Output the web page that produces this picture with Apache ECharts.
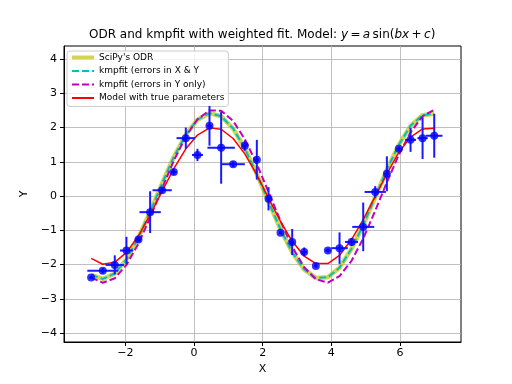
<!DOCTYPE html>
<html><head><meta charset="utf-8">
<script src="https://cdn.jsdelivr.net/npm/echarts@6/dist/echarts.min.js"></script>
<style>html,body{margin:0;padding:0;background:#fff}#c{width:512px;height:384px}</style>
</head><body><div id="c"></div>
<script>
// Data
const xData = [-3.00,-2.66,-2.31,-1.97,-1.62,-1.28,-0.93,-0.59,-0.24,0.10,0.45,0.79,1.14,1.48,1.83,2.17,2.52,2.86,3.21,3.55,3.90,4.24,4.59,4.93,5.28,5.62,5.97,6.31,6.66,7.00];
const yData = [-2.38,-2.18,-2.01,-1.59,-1.27,-0.47,0.17,0.70,1.69,1.20,2.05,1.41,0.93,1.47,1.06,-0.08,-1.07,-1.34,-1.63,-2.04,-1.59,-1.52,-1.34,-0.90,0.12,0.65,1.38,1.64,1.69,1.76];
const xErr = [0.05,0.45,0.27,0.19,0.06,0.31,0.28,0.08,0.27,0.16,0.08,0.40,0.34,0.08,0.06,0.06,0.05,0.06,0.08,0.05,0.08,0.24,0.19,0.32,0.31,0.08,0.06,0.16,0.15,0.24];
const yErr = [0.05,0.08,0.28,0.40,0.08,0.61,0.08,0.08,0.31,0.18,0.58,1.05,0.08,0.15,0.58,0.34,0.05,0.38,0.13,0.05,0.06,0.46,0.12,0.71,0.17,0.51,0.06,0.35,0.61,0.64];
const odrFit = [-2.30,-2.42,-2.26,-1.85,-1.21,-0.46,0.37,1.14,1.79,2.23,2.42,2.33,1.97,1.39,0.64,-0.16,-0.97,-1.64,-2.14,-2.39,-2.37,-2.09,-1.54,-0.85,-0.03,0.77,1.50,2.05,2.36,2.40];
const kmpfitXY = [-2.30,-2.42,-2.26,-1.85,-1.21,-0.46,0.37,1.14,1.79,2.23,2.42,2.33,1.97,1.39,0.64,-0.16,-0.97,-1.64,-2.14,-2.39,-2.37,-2.09,-1.54,-0.85,-0.03,0.77,1.50,2.05,2.36,2.40];
const kmpfitY = [-2.38,-2.53,-2.40,-2.01,-1.39,-0.63,0.22,1.03,1.74,2.24,2.50,2.49,2.19,1.66,0.93,0.12,-0.73,-1.48,-2.08,-2.43,-2.53,-2.34,-1.89,-1.24,-0.43,0.40,1.21,1.86,2.33,2.52];
const trueModel = [-1.82,-1.99,-1.93,-1.65,-1.16,-0.55,0.14,0.80,1.38,1.78,1.99,1.95,1.68,1.23,0.62,-0.06,-0.74,-1.32,-1.75,-1.97,-1.97,-1.73,-1.27,-0.69,-0.01,0.65,1.28,1.72,1.96,1.98];
const xTicks = [-2,0,2,4,6];
const yTicks = [-4,-3,-2,-1,0,1,2,3,4];
const seriesNames = ["SciPy's ODR","kmpfit (errors in X & Y","kmpfit (errors in Y only)","Model with true parameters"];

const F = 'DejaVu Sans';
const pair = arr => xData.map((x,i)=>[x,arr[i]]);
const minus = v => String(v).replace('-', '\u2212');
const ODR_COLOR = 'rgba(191,191,0,0.68)';

const chart = echarts.init(document.getElementById('c'), null, {renderer:'canvas'});
chart.setOption({
  animation:false,
  backgroundColor:'#fff',
  title:{
    text:'ODR and kmpfit with weighted fit. Model: {i|y}\u2009=\u2009{i|a}\u2009sin({i|bx}\u2009+\u2009{i|c})',
    left:89, top:28.5, padding:0,
    textStyle:{fontFamily:F,fontSize:12,fontWeight:'normal',color:'#000',
      rich:{i:{fontFamily:F,fontSize:12,fontStyle:'italic',color:'#000'}}}
  },
  grid:{left:64,right:51,top:46,bottom:42,show:true,borderColor:'#000',borderWidth:1,backgroundColor:'transparent'},
  legend:{
    orient:'vertical', left:67, top:51,
    data:[
      {name:seriesNames[0],lineStyle:{width:4}},
      {name:seriesNames[1]},
      {name:seriesNames[2]},
      {name:seriesNames[3]}
    ],
    backgroundColor:'rgba(255,255,255,0.8)', borderColor:'#cccccc', borderWidth:1, borderRadius:3,
    padding:[1,4,3,3], itemWidth:22, itemHeight:11, itemGap:2.5,
    itemStyle:{opacity:0},
    textStyle:{fontFamily:F,fontSize:9,color:'#000',lineHeight:11}
  },
  xAxis:{
    type:'value', min:-3.79, max:7.78,
    name:'X', nameLocation:'middle', nameGap:20,
    nameTextStyle:{fontFamily:F,fontSize:11,color:'#000'},
    axisLine:{show:true,onZero:false,lineStyle:{color:'#000',width:1}},
    axisTick:{show:true,inside:false,length:4,customValues:xTicks,lineStyle:{color:'#000'}},
    axisLabel:{customValues:xTicks,margin:6,fontFamily:F,fontSize:11,color:'#000',formatter:minus},
    splitLine:{show:true,lineStyle:{color:'#b0b0b0',width:0.8}}
  },
  yAxis:{
    type:'value', min:-4.26, max:4.38,
    name:'Y', nameLocation:'middle', nameGap:31, nameRotate:90,
    nameTextStyle:{fontFamily:F,fontSize:11,color:'#000'},
    axisLine:{show:true,onZero:false,lineStyle:{color:'#000',width:1}},
    axisTick:{show:true,inside:false,length:4,customValues:yTicks,lineStyle:{color:'#000'}},
    axisLabel:{customValues:yTicks,margin:7,fontFamily:F,fontSize:11,color:'#000',formatter:minus},
    splitLine:{show:true,lineStyle:{color:'#b0b0b0',width:0.8}}
  },
  series:[
    {name:seriesNames[0],type:'line',data:pair(odrFit),symbol:'none',z:2,
      lineStyle:{color:ODR_COLOR,width:4.5},itemStyle:{color:ODR_COLOR}},
    {name:seriesNames[1],type:'line',data:pair(kmpfitXY),symbol:'none',z:3,
      lineStyle:{color:'#00bfbf',width:2,type:[7,3]},itemStyle:{color:'#00bfbf'}},
    {name:seriesNames[2],type:'line',data:pair(kmpfitY),symbol:'none',z:3,
      lineStyle:{color:'#bf00bf',width:2,type:[7,3]},itemStyle:{color:'#bf00bf'}},
    {name:seriesNames[3],type:'line',data:pair(trueModel),symbol:'none',z:4,
      lineStyle:{color:'#ff0000',width:1.5},itemStyle:{color:'#ff0000'}},
    {type:'custom',z:5,data:xData.map((x,i)=>[x,yData[i],xErr[i],yErr[i]]),
      renderItem:function(params,api){
        const x=api.value(0),y=api.value(1),xe=api.value(2),ye=api.value(3);
        const l=api.coord([x-xe,y]),r=api.coord([x+xe,y]);
        const t=api.coord([x,y+ye]),b=api.coord([x,y-ye]);
        const st={stroke:'#1a1aff',lineWidth:2};
        return {type:'group',children:[
          {type:'line',shape:{x1:l[0],y1:l[1],x2:r[0],y2:r[1]},style:st},
          {type:'line',shape:{x1:t[0],y1:t[1],x2:b[0],y2:b[1]},style:st}
        ]};
      }},
    {type:'scatter',z:6,data:pair(yData),symbol:'circle',symbolSize:8,itemStyle:{color:'#0000ff'}}
  ]
});
</script></body></html>
